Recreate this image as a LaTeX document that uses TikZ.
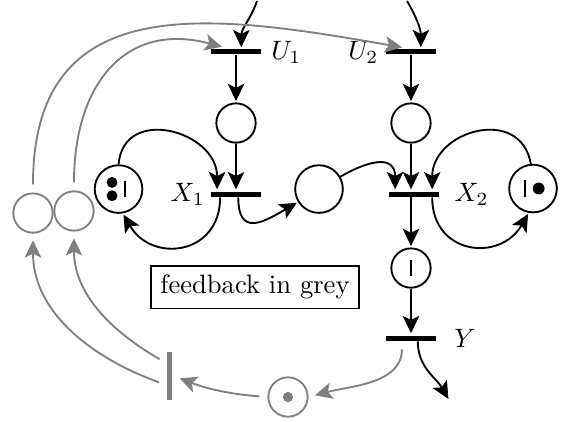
\documentclass[tikz,border=0pt]{standalone}
\usepackage{tikz}
\usetikzlibrary{arrows.meta,calc}
\tikzset{
  pnplace/.style={draw,circle,line width=0.7pt,minimum size=5.2mm,inner sep=0pt},
  pnbig/.style={pnplace,minimum size=6.3mm},
  pntrans/.style={fill=black,minimum width=6.5mm,minimum height=0.66mm,inner sep=0pt},
  pnarc/.style={-{Stealth[length=6.5pt,width=6.2pt,inset=1.5pt]},line width=0.7pt,shorten >=0.5pt},
  pnfeed/.style={pnarc,gray,shorten >=2.5pt,shorten <=3pt},
  pnfeedplace/.style={pnplace,draw=gray},
  pnfeedtrans/.style={fill=gray,minimum width=0.66mm,minimum height=6.4mm,inner sep=0pt},
  pntok/.style={line width=0.85pt},
}

\begin{document}
\begin{tikzpicture}[line width=0.7pt]
 % petri net with grey feedback
\useasboundingbox (0,0) rectangle (7.535,-5.566);
\node[pntrans,label={right:$U_1$}] (U1) at (3.120,-0.687) {};
\node[pntrans,label={[label distance=-1pt]left:$U_2$}] (U2) at (5.433,-0.687) {};
\node[pntrans,label={[label distance=-1.5pt]left:$X_1$}] (X1) at (3.120,-2.565) {};
\node[pntrans,label={[label distance=2pt]right:$X_2$}] (X2) at (5.473,-2.565) {};
\node[pntrans,label={[label distance=3pt]right:$Y$}] (Y) at (5.433,-4.468) {};
\node[pnplace] (PU1) at (3.120,-1.626) {};
\node[pnplace] (PU2) at (5.433,-1.626) {};
\node[pnbig] (LT) at (1.567,-2.499) {};
\node[pnbig] (MP) at (4.217,-2.499) {};
\node[pnbig] (RT) at (7.046,-2.492) {};
\node[pnplace] (PY) at (5.433,-3.543) {};
\node[pnfeedplace] (GT) at (3.807,-5.248) {};
\node[pnfeedtrans] (GB) at (2.247,-4.971) {};
\node[pnfeedplace] (G1) at (0.436,-2.816) {};
\node[pnfeedplace] (G2) at (0.978,-2.789) {};
\node[draw,inner sep=3.5pt] (note) at (3.371,-3.794) {feedback in grey};
\coordinate (srcU1) at (3.398,-0.013);
\coordinate (srcU2) at (5.381,-0.013);
\coordinate (outY) at (5.936,-5.288);
% tokens
\fill ($(LT)+(-0.086,0.088)$) circle (0.072);
\fill ($(LT)+(-0.086,-0.088)$) circle (0.072);
\draw[pntok] ($(LT)+(0.086,-0.105)$) -- ++(0,0.21);
\draw[pntok] ($(RT)+(-0.11,-0.115)$) -- ++(0,0.23);
\fill ($(RT)+(0.075,0)$) circle (0.078);
\draw[pntok] ($(PY)+(0,-0.11)$) -- ++(0,0.22);
\fill[gray] (GT) circle (0.068);
% arcs
\draw[pnarc] (srcU1) to[out=-110,in=90] ([xshift=0.07cm]U1.north);
\draw[pnarc] (srcU2) to[out=-60,in=90] ([xshift=0.13cm]U2.north);
\draw[pnarc] (U1) -- (PU1);
\draw[pnarc] (U2) -- (PU2);
\draw[pnarc] (PU1) -- (PU1 |- X1.north);
\draw[pnarc] (PU2) -- (PU2 |- X2.north);
\draw[pnarc] (LT.north) to[out=85,in=90,looseness=1.5] ([xshift=-0.25cm]X1.north);
\draw[pnarc] ([xshift=-0.21cm]X1.south) to[out=-90,in=-60,looseness=1.5] (LT.-80);
\draw[pnarc] ([xshift=0.03cm]X1.south) to[out=-90,in=-150,looseness=1.7] (MP.-148);
\draw[pnarc] (MP.30) to[out=30,in=90,looseness=1.6] ([xshift=-0.25cm]X2.north);
\draw[pnarc] (RT.95) to[out=100,in=90,looseness=1.5] ([xshift=0.24cm]X2.north);
\draw[pnarc] ([xshift=0.24cm]X2.south) to[out=-90,in=-120,looseness=1.5] (RT.-100);
\draw[pnarc] (X2.south -| PY) -- (PY);
\draw[pnarc] (PY) -- (Y);
\draw[pnarc] ([xshift=0.09cm]Y.south) to[out=-90,in=120] (outY);
% feedback
\draw[pnfeed] ([xshift=-0.12cm]Y.south) to[out=-90,in=15] (GT.east);
\draw[pnfeed] (GT.west) to[bend left=8] (GB.east);
\draw[pnfeed] ([yshift=-0.12cm]GB.west) to[out=160,in=-90] (G1.south);
\draw[pnfeed] ([yshift=0.17cm]GB.west) to[out=150,in=-90] (G2.south);
\draw[pnfeed] (G1.north) to[out=90,in=170,looseness=1.3] ([xshift=-0.03cm]U2.north);
\draw[pnfeed] (G2.north) to[out=90,in=165,looseness=1.3] ([xshift=-0.1cm]U1.north);
\end{tikzpicture}
\end{document}
